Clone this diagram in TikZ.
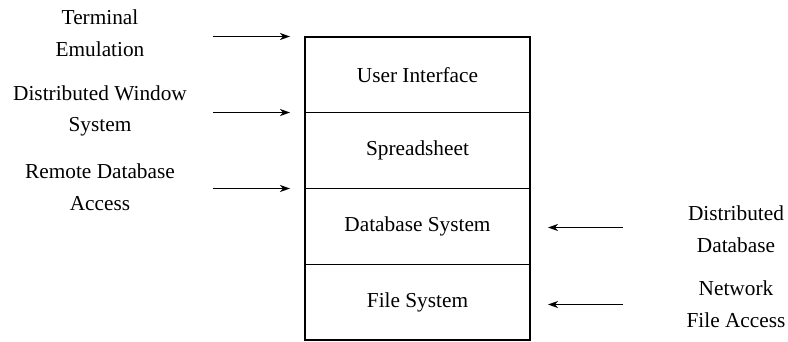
\documentclass[tikz,border=0pt]{standalone}
\usepackage{fontspec}
\setmainfont{Liberation Serif}
\usetikzlibrary{arrows.meta,positioning}
\begin{document}
\begin{tikzpicture}[x=1pt,y=-1pt,
  layer/.style={draw,line width=1.3pt,outer sep=0pt,minimum width=225pt,minimum height=75.75pt,
    inner sep=0pt,font=\fontsize{21.3}{24}\selectfont},
  lbl/.style={align=center,inner sep=0pt,font=\fontsize{21.3}{31.5}\selectfont},
  arr/.style={line width=1.5pt,-{Stealth[length=10pt,width=7pt,inset=3pt]}}]
\useasboundingbox (0,0) rectangle (788,341);
% protocol stack
\node[layer] (ui) at (417.5,74.9) {User Interface};
\node[layer,anchor=north] (ss) at (ui.south) {Spreadsheet};
\node[layer,anchor=north] (db) at (ss.south) {Database System};
\node[layer,anchor=north] (fs) at (db.south) {File System};
% distribution points on the left
\node[lbl] (te) at (100,33) {Terminal\\Emulation};
\node[lbl] (dw) at (100,111) {Distributed Window\\System};
\node[lbl] (rd) at (100,187) {Remote Database\\Access};
\coordinate (a1) at (213,36.5);
\coordinate (a2) at (213,112.5);
\coordinate (a3) at (213,188.5);
\draw[arr,shorten >=15pt] (a1) -- (a1 -| ui.west);
\draw[arr,shorten >=15pt] (a2) -- (a2 -| ui.west);
\draw[arr,shorten >=15pt] (a3) -- (a3 -| ui.west);
% distribution points on the right
\node[lbl] (dd) at (736,229) {Distributed\\Database};
\node[lbl] (nf) at (736,304) {Network\\File Access};
\coordinate (b1) at (623,227.5);
\coordinate (b2) at (623,304.5);
\draw[arr,shorten >=18pt] (b1) -- (b1 -| db.east);
\draw[arr,shorten >=18pt] (b2) -- (b2 -| fs.east);
\end{tikzpicture}
\end{document}
